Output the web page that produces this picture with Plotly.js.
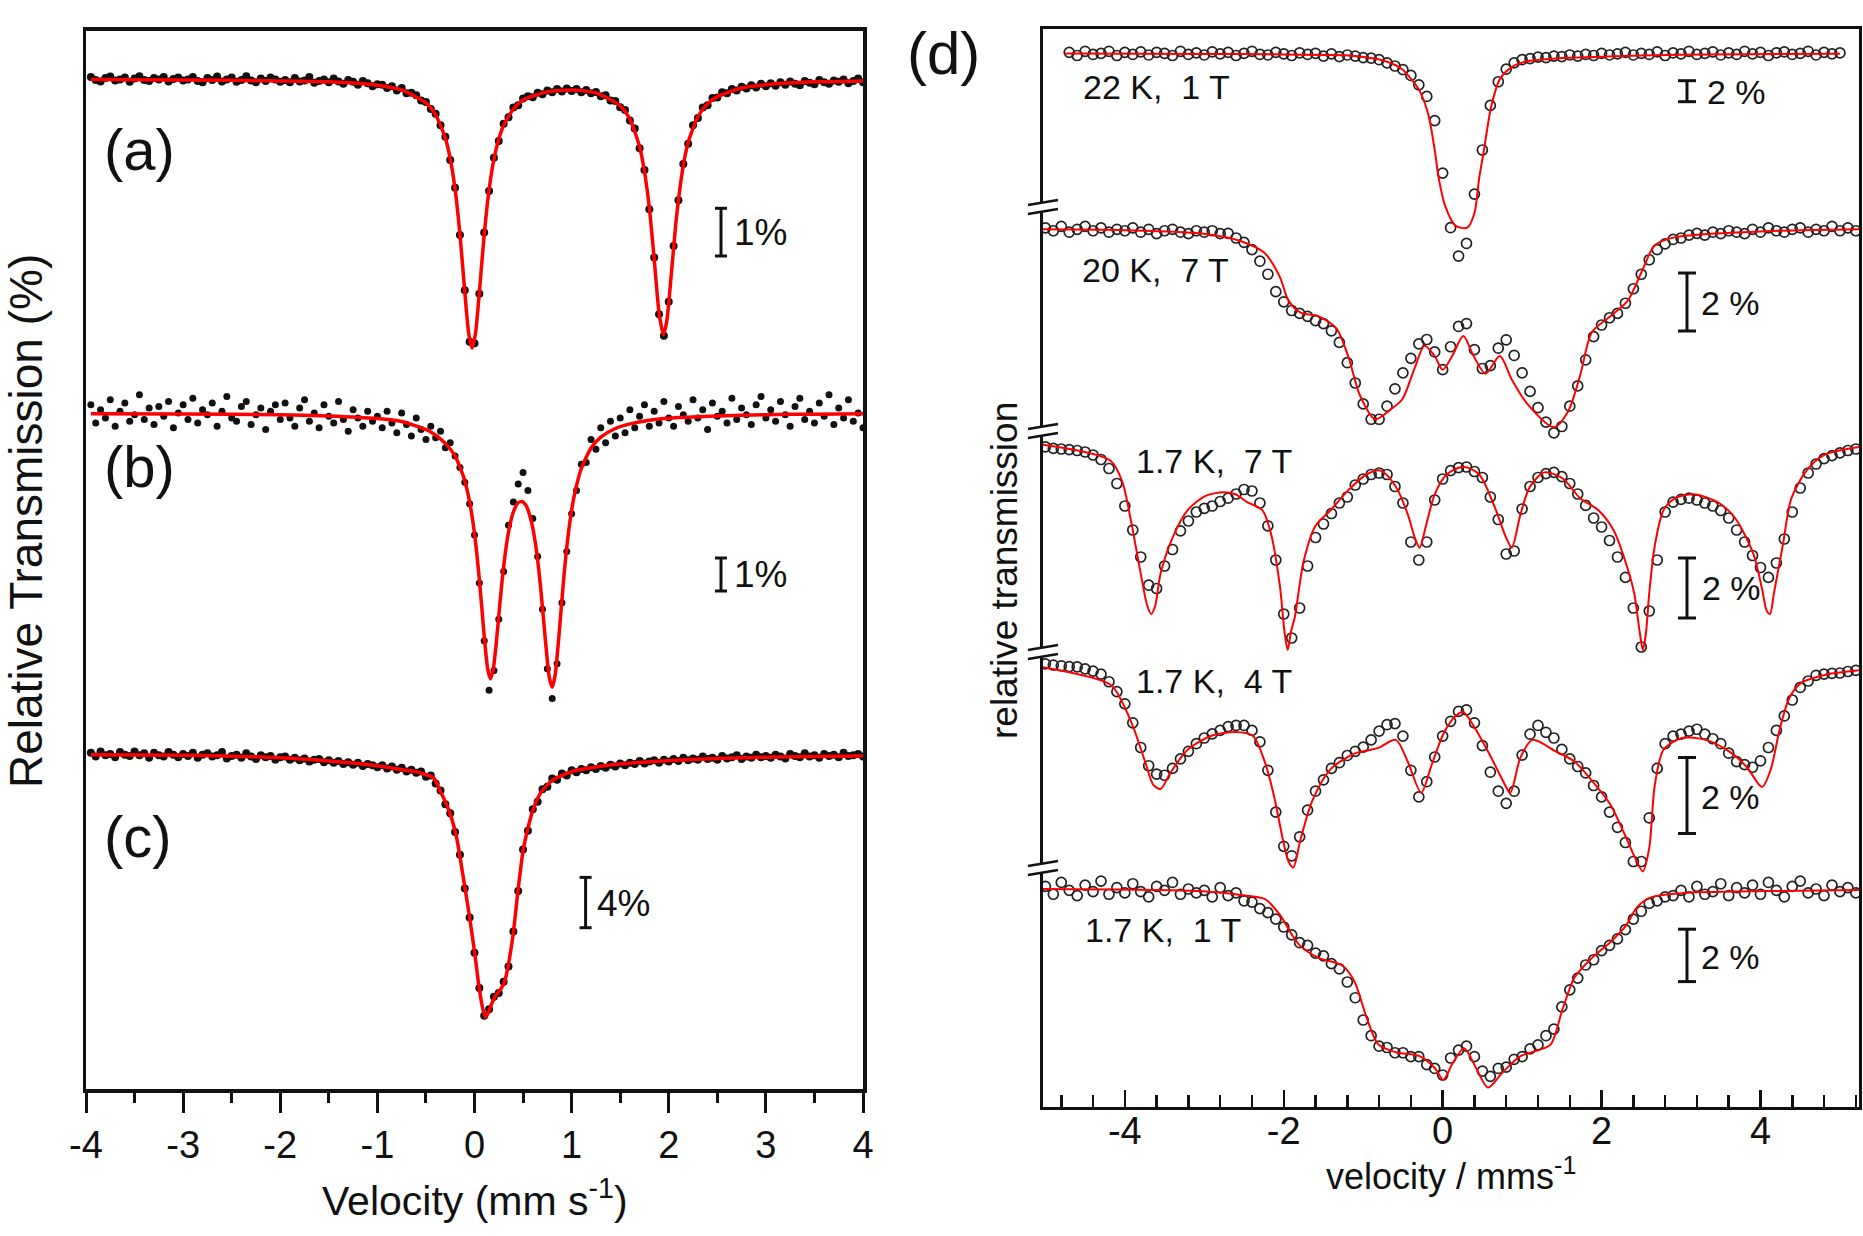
<!DOCTYPE html>
<html>
<head>
<meta charset="utf-8">
<script src="https://cdn.plot.ly/plotly-3.0.1.min.js"></script>
<style>
  html, body { margin: 0; padding: 0; background: #fff; }
  #chart { width: 1863px; height: 1236px; }
</style>
</head>
<body>
<div id="chart"></div>
<script>
// ---- left panel: (a) (b) (c), relative transmission in %, data every 0.05 mm/s from -3.95
const aData = [
  100.04, 99.98, 99.95, 100.02, 100.05, 99.97, 99.99, 100.03, 99.94, 100.01, 100.06, 99.98, 99.96, 100.02, 99.99, 100.04, 99.95, 100.00, 100.03, 99.97,
  99.99, 100.04, 99.96, 99.93, 100.02, 99.98, 100.05, 99.95, 99.99, 100.03, 99.94, 99.98, 100.06, 99.97, 99.93, 100.01, 99.96, 100.03, 99.99, 99.94,
  99.98, 99.93, 100.02, 99.95, 99.97, 100.04, 99.92, 99.96, 99.99, 99.93, 100.01, 99.95, 99.90, 99.98, 99.94, 99.88, 99.96, 99.91, 99.85, 99.89,
  99.88, 99.81, 99.85, 99.76, 99.81, 99.70, 99.71, 99.66, 99.55, 99.52, 99.37, 99.27, 99.03, 98.79, 98.30, 97.72, 96.73, 95.57, 94.49, 94.46,
  95.50, 96.78, 97.65, 98.35, 98.70, 99.06, 99.20, 99.40, 99.45, 99.59, 99.64, 99.62, 99.71, 99.68, 99.76, 99.72, 99.79, 99.74, 99.80, 99.75,
  99.79, 99.72, 99.77, 99.70, 99.73, 99.64, 99.66, 99.55, 99.54, 99.41, 99.35, 99.13, 98.96, 98.55, 98.09, 97.27, 96.26, 95.07, 94.62, 95.33,
  96.50, 97.46, 98.22, 98.64, 99.03, 99.18, 99.40, 99.45, 99.60, 99.61, 99.72, 99.70, 99.79, 99.76, 99.84, 99.80, 99.87, 99.82, 99.90, 99.85,
  99.91, 99.86, 99.93, 99.88, 99.95, 99.90, 99.87, 99.96, 99.92, 99.89, 99.98, 99.93, 99.90, 99.97, 99.94, 99.99, 99.91, 99.96, 100.01, 99.93
];
const aFitV = [-3.95, -3, -2, -1.5, -1, -0.75, -0.5, -0.4, -0.3, -0.25, -0.2, -0.15, -0.1, -0.06, -0.025, 0.01, 0.05, 0.1, 0.15, 0.2, 0.25, 0.3, 0.4, 0.5, 0.75, 1, 1.25, 1.5, 1.6, 1.7, 1.75, 1.8, 1.85, 1.9, 1.945, 1.98, 2.03, 2.08, 2.15, 2.2, 2.3, 2.4, 2.5, 2.75, 3, 3.5, 4];
const aFitT = [99.99, 99.98, 99.96, 99.94, 99.87, 99.77, 99.50, 99.25, 98.76, 98.33, 97.69, 96.75, 95.54, 94.67, 94.36, 94.66, 95.53, 96.74, 97.68, 98.32, 98.74, 99.03, 99.37, 99.56, 99.73, 99.77, 99.71, 99.44, 99.16, 98.58, 98.06, 97.30, 96.23, 95.10, 94.64, 94.93, 95.99, 97.11, 98.19, 98.67, 99.21, 99.48, 99.63, 99.81, 99.88, 99.94, 99.96];

const bData = [
  100.25, 99.70, 100.10, 99.85, 100.40, 99.60, 100.05, 100.30, 99.75, 99.95, 100.55, 99.80, 100.15, 99.65, 100.20, 99.90, 100.35, 99.55, 100.00, 100.25,
  99.80, 100.45, 99.70, 100.10, 99.95, 100.30, 99.60, 100.05, 100.50, 99.85, 99.75, 100.20, 100.35, 99.65, 99.95, 100.15, 99.50, 100.05, 100.25, 99.80,
  100.30, 99.85, 99.60, 100.15, 100.40, 99.75, 100.00, 99.55, 100.25, 99.90, 99.70, 100.35, 99.80, 99.45, 100.10, 99.85, 99.60, 100.05, 99.75, 99.90,
  99.55, 100.05, 99.70, 99.40, 100.00, 99.65, 99.30, 99.85, 99.50, 99.20, 99.60, 99.25, 99.45, 98.95, 99.10, 98.70, 98.35, 97.90, 97.25, 96.30,
  94.85, 93.10, 91.60, 92.20, 93.75, 95.20, 96.60, 97.30, 97.85, 98.20, 97.65, 96.80, 95.65, 94.05, 92.25, 91.35, 92.40, 94.25, 95.80, 96.95,
  97.65, 98.45, 98.50, 99.20, 98.90, 99.55, 99.10, 99.75, 99.30, 99.85, 99.40, 100.10, 99.55, 99.90, 100.25, 99.60, 100.05, 99.70, 100.35, 99.85,
  99.60, 100.20, 99.95, 99.75, 100.40, 99.85, 100.10, 99.50, 100.30, 99.90, 100.05, 99.70, 100.45, 99.80, 100.15, 99.95, 99.65, 100.25, 100.50, 99.85,
  100.10, 99.75, 100.35, 99.95, 99.60, 100.20, 100.45, 99.80, 100.05, 99.70, 100.30, 99.90, 100.55, 99.65, 100.15, 99.85, 100.40, 99.75, 100.00, 99.55
];
const bFitV = [-3.95, -3, -2, -1.5, -1, -0.75, -0.5, -0.4, -0.3, -0.2, -0.1, -0.05, 0, 0.05, 0.1, 0.135, 0.163, 0.19, 0.22, 0.26, 0.3, 0.35, 0.4, 0.45, 0.49, 0.53, 0.58, 0.63, 0.68, 0.73, 0.77, 0.8, 0.83, 0.87, 0.92, 0.97, 1.02, 1.1, 1.2, 1.3, 1.45, 1.6, 1.8, 2.1, 2.5, 3, 3.5, 4];
const bFitT = [99.98, 99.97, 99.945, 99.91, 99.83, 99.74, 99.5, 99.33, 99.08, 98.7, 97.95, 97.3, 96.35, 94.96, 93.24, 92.26, 91.95, 92.18, 92.9, 94.18, 95.35, 96.39, 97.0, 97.28, 97.32, 97.2, 96.78, 96.0, 94.74, 93.11, 91.99, 91.69, 92.05, 93.27, 95.03, 96.43, 97.39, 98.32, 98.94, 99.27, 99.53, 99.67, 99.78, 99.86, 99.91, 99.95, 99.965, 99.975];

const cData = [
  100.1, 99.8, 100.2, 99.9, 100.0, 99.75, 100.15, 99.95, 99.85, 100.2, 99.9, 100.05, 99.7, 100.1, 99.9, 99.8, 100.15, 99.95, 99.75, 100.0,
  99.85, 100.1, 99.7, 99.95, 100.05, 99.8, 99.9, 100.15, 99.65, 99.85, 99.95, 99.7, 100.05, 99.8, 99.6, 99.9, 99.75, 99.85, 99.55, 99.75,
  99.8, 99.55, 99.7, 99.5, 99.65, 99.4, 99.55, 99.6, 99.35, 99.5, 99.3, 99.45, 99.2, 99.35, 99.15, 99.3, 99.05, 99.2, 99.1, 98.95,
  99.1, 98.85, 99.0, 98.75, 98.9, 98.6, 98.75, 98.5, 98.6, 98.2, 98.3, 97.65, 97.1, 96.0, 95.3, 93.8, 92.0, 89.3, 87.0, 84.2,
  81.4, 79.2, 79.7, 80.7, 81.0, 81.9, 83.1, 85.9, 89.1, 92.4, 93.9, 95.6, 96.2, 97.2, 97.4, 98.05, 97.95, 98.45, 98.3, 98.7,
  98.55, 98.8, 98.7, 98.95, 98.8, 99.05, 98.9, 99.15, 99.0, 99.25, 99.1, 99.3, 99.2, 99.45, 99.25, 99.4, 99.5, 99.3, 99.55, 99.4,
  99.6, 99.45, 99.7, 99.5, 99.65, 99.55, 99.8, 99.6, 99.7, 99.55, 99.85, 99.65, 99.75, 99.9, 99.6, 99.8, 99.7, 99.95, 99.75, 99.85,
  99.7, 99.95, 99.8, 99.65, 100.0, 99.85, 99.75, 100.05, 99.8, 99.9, 99.7, 100.0, 99.85, 99.95, 99.75, 100.1, 99.85, 99.9, 100.0, 99.8
];
const cFitV = [-3.95, -3, -2, -1.5, -1.2, -0.9, -0.7, -0.6, -0.5, -0.42, -0.35, -0.3, -0.24, -0.18, -0.12, -0.06, 0, 0.05, 0.09, 0.114, 0.14, 0.18, 0.22, 0.27, 0.31, 0.35, 0.4, 0.45, 0.5, 0.55, 0.6, 0.68, 0.8, 1, 1.23, 1.5, 1.84, 2.5, 3, 3.5, 4];
const cFitT = [99.95, 99.9, 99.7, 99.45, 99.25, 98.95, 98.7, 98.6, 98.35, 98.1, 97.0, 96.2, 95.0, 93.2, 90.4, 87.5, 84.3, 81.3, 79.6, 79.1, 79.4, 80.2, 80.8, 81.3, 81.9, 83.3, 85.8, 89.3, 92.3, 94.1, 95.5, 96.9, 97.9, 98.6, 98.94, 99.2, 99.4, 99.65, 99.75, 99.8, 99.85];

// ---- right panel (d): data every 0.1 mm/s (22 K from -4.7, the others from -5.0)
const k22Data = [
  100.1, 99.8, 100.2, 99.9, 100.0, 100.2, 99.8, 100.1, 99.9, 100.15,
  99.85, 100.1, 100.0, 99.8, 100.2, 99.9, 100.05, 99.85, 100.15, 99.95,
  100.1, 99.8, 100.0, 100.2, 99.9, 99.85, 100.1, 99.95, 99.8, 100.05,
  99.9, 100.0, 99.75, 99.95, 99.7, 99.85, 99.75, 99.6, 99.55, 99.4,
  99.1, 98.8, 98.45, 97.9, 97.0, 95.9, 93.6, 88.6, 83.4, 80.7,
  81.9, 86.6, 90.8, 95.05, 97.3, 98.5, 99.1, 99.4, 99.5, 99.65,
  99.6, 99.75, 99.7, 99.85, 99.75, 99.9, 99.8, 100.0, 99.85, 99.95,
  100.1, 99.85, 100.0, 99.9, 100.15, 99.8, 100.05, 99.95, 100.2, 99.9,
  100.0, 100.15, 99.85, 100.05, 99.9, 100.2, 99.95, 100.1, 99.8, 100.05,
  100.15, 99.9, 100.0, 100.2, 99.85, 100.1, 99.95, 100.05
];
const k22FitV = [-4.75, -3, -2, -1.5, -1.19, -0.81, -0.59, -0.51, -0.4, -0.29, -0.18, -0.1, -0.05, 0.03, 0.16, 0.31, 0.4, 0.46, 0.52, 0.61, 0.72, 0.87, 1.06, 1.4, 1.81, 2.5, 3.31, 5.0];
const k22FitT = [99.98, 99.95, 99.9, 99.85, 99.81, 99.44, 98.87, 98.5, 97.6, 96.43, 94.16, 90.8, 88.14, 85.5, 83.6, 83.4, 84.8, 88.14, 90.8, 94.9, 97.55, 98.7, 99.25, 99.5, 99.63, 99.8, 99.89, 99.97];

const k20Data = [
  100.05, 99.95, 100.1, 99.9, 100.0, 100.1, 99.95, 100.05, 99.9, 100.0,
  99.95, 100.05, 99.9, 100.0, 99.85, 99.95, 100.0, 99.9, 99.85, 99.95,
  99.9, 99.95, 99.85, 99.86, 99.7, 99.55, 99.3, 98.9, 98.45, 97.85,
  97.5, 97.2, 97.1, 97.0, 96.85, 96.75, 96.5, 96.1, 95.4, 94.7,
  93.98, 93.45, 93.45, 93.9, 94.5, 95.05, 95.55, 96.05, 96.2, 95.77,
  95.16, 95.95, 96.65, 96.75, 95.85, 95.2, 95.3, 95.9, 96.19, 95.65,
  95.05, 94.41, 93.85, 93.35, 92.98, 93.2, 93.9, 94.6, 95.5, 96.3,
  96.7, 96.95, 97.1, 97.45, 97.95, 98.45, 98.95, 99.3, 99.5, 99.65,
  99.7, 99.8, 99.86, 99.8, 99.9, 99.85, 99.95, 99.9, 99.85, 100.0,
  99.9, 100.05, 99.95, 99.9, 100.0, 100.05, 99.9, 100.0, 99.95, 100.1,
  99.95, 100.05, 99.95
];
const k20FitV = [-5.03, -4, -3.06, -2.54, -2.24, -2.05, -1.94, -1.79, -1.56, -1.34, -1.19, -1.04, -0.85, -0.65, -0.51, -0.35, -0.23, -0.1, 0, 0.12, 0.26, 0.39, 0.54, 0.72, 0.87, 1.06, 1.4, 1.58, 1.73, 1.88, 2.11, 2.33, 2.52, 2.67, 2.93, 4.06, 5.24];
const k20FitT = [100, 99.97, 99.86, 99.59, 99.18, 98.36, 97.54, 97.13, 97.0, 96.59, 95.63, 94.27, 93.45, 93.8, 94.13, 95.23, 95.98, 95.63, 95.16, 95.63, 96.32, 95.63, 95.02, 95.63, 94.82, 94.0, 93.18, 93.73, 94.96, 96.46, 97.0, 97.54, 98.63, 99.45, 99.73, 99.93, 100];

const t7Data = [
  99.77, 99.72, 99.7, 99.68, 99.65, 99.6, 99.5, 99.35, 99.05, 98.55,
  97.8, 97.0, 96.1, 95.16, 95.05, 95.8, 96.35, 96.97, 97.3, 97.6,
  97.72, 97.8, 97.95, 98.06, 98.2, 98.35, 98.3, 97.9, 97.14, 96.0,
  94.2, 93.4, 94.4, 95.8, 96.75, 97.2, 97.55, 97.9, 98.1, 98.5,
  98.7, 98.85, 98.9, 98.85, 98.45, 97.9, 96.6, 96.0, 96.6, 98.0,
  98.7, 98.98, 99.08, 99.1, 98.95, 98.75, 98.1, 97.35, 96.2, 96.3,
  97.7, 98.45, 98.75, 98.88, 98.92, 98.78, 98.55, 98.2, 97.82, 97.4,
  97.1, 96.65, 96.1, 95.42, 94.4, 93.1, 94.3, 96.0, 97.6, 97.93,
  98.02, 98.06, 98.0, 97.9, 97.8, 97.65, 97.4, 97.0, 96.6, 96.15,
  95.75, 95.42, 95.9, 96.7, 97.6, 98.4, 98.9, 99.2, 99.38, 99.48,
  99.57, 99.65, 99.7
];
const t7FitV = [-5.03, -4.18, -4.03, -3.92, -3.81, -3.72, -3.67, -3.62, -3.55, -3.4, -3.21, -2.99, -2.76, -2.61, -2.46, -2.27, -2.16, -2.05, -1.99, -1.95, -1.91, -1.86, -1.75, -1.6, -1.41, -1.19, -0.96, -0.78, -0.59, -0.44, -0.35, -0.29, -0.21, -0.1, 0.05, 0.26, 0.46, 0.65, 0.8, 0.87, 0.98, 1.1, 1.28, 1.51, 1.73, 1.96, 2.15, 2.3, 2.41, 2.48, 2.52, 2.56, 2.6, 2.67, 2.78, 2.93, 3.16, 3.46, 3.68, 3.91, 4.02, 4.08, 4.12, 4.17, 4.28, 4.39, 4.58, 4.81, 5.24];
const t7FitT = [99.84, 99.31, 98.59, 97.27, 95.69, 94.5, 94.2, 94.45, 95.55, 96.74, 97.66, 98.13, 98.26, 98.19, 97.93, 97.66, 96.87, 95.16, 93.6, 93.0, 93.6, 94.11, 95.95, 97.14, 97.66, 98.32, 98.85, 98.98, 98.45, 97.53, 96.74, 96.41, 97.14, 98.19, 98.85, 99.11, 98.85, 97.8, 96.74, 96.41, 97.53, 98.45, 98.92, 98.72, 98.06, 97.66, 97.0, 95.95, 94.9, 93.6, 93.0, 93.6, 94.9, 96.48, 97.66, 98.06, 98.19, 97.93, 97.4, 96.21, 95.03, 94.3, 94.2, 94.9, 96.48, 98.06, 98.98, 99.51, 99.77];

const t4Data = [
  99.95, 99.92, 99.9, 99.88, 99.87, 99.82, 99.76, 99.68, 99.48, 99.22,
  98.9, 98.4, 97.75, 97.27, 97.05, 97.02, 97.2, 97.45, 97.65, 97.85,
  98.0, 98.11, 98.2, 98.3, 98.33, 98.33, 98.2, 97.9, 97.15, 96.05,
  95.15, 94.9, 95.4, 96.1, 96.6, 96.9, 97.2, 97.35, 97.54, 97.65,
  97.76, 97.95, 98.18, 98.35, 98.38, 98.05, 97.15, 96.45, 96.85, 97.5,
  98.05, 98.44, 98.7, 98.74, 98.4, 97.8, 97.1, 96.6, 96.28, 96.6,
  97.55, 98.1, 98.33, 98.15, 98.0, 97.7, 97.45, 97.25, 97.08, 96.75,
  96.45, 96.05, 95.65, 95.25, 94.75, 94.75, 95.9, 97.2, 97.85, 98.05,
  98.1, 98.18, 98.23, 98.1, 97.98, 97.85, 97.6, 97.38, 97.3, 97.23,
  97.4, 97.75, 98.2, 98.58, 99.0, 99.33, 99.5, 99.65, 99.68, 99.7,
  99.71, 99.75, 99.78
];
const t4FitV = [-5.03, -4.18, -4.03, -3.88, -3.73, -3.64, -3.55, -3.43, -3.21, -2.91, -2.61, -2.39, -2.24, -2.12, -2.01, -1.94, -1.88, -1.79, -1.64, -1.41, -1.11, -0.81, -0.59, -0.44, -0.27, -0.14, 0.01, 0.16, 0.26, 0.42, 0.61, 0.76, 0.85, 0.98, 1.13, 1.43, 1.66, 1.88, 2.11, 2.3, 2.41, 2.52, 2.6, 2.67, 2.78, 3.01, 3.31, 3.61, 3.83, 4.02, 4.13, 4.24, 4.36, 4.51, 4.81, 5.24];
const t4FitT = [99.86, 99.4, 98.93, 98.21, 97.28, 96.76, 96.66, 97.07, 97.69, 98.06, 98.16, 98.06, 97.38, 96.45, 95.32, 94.75, 94.59, 95.32, 96.35, 97.18, 97.59, 97.74, 97.95, 97.38, 96.56, 97.28, 98.11, 98.57, 98.68, 98.21, 97.49, 96.87, 96.56, 97.49, 97.95, 97.64, 97.38, 96.87, 96.25, 95.42, 94.9, 94.49, 95.11, 96.76, 97.69, 98.0, 97.95, 97.64, 97.23, 96.71, 97.18, 98.21, 99.04, 99.45, 99.66, 99.78];

const t1Data = [
  100.1, 99.8, 100.25, 99.95, 99.75, 100.15, 99.9, 100.3, 99.8, 100.05,
  99.85, 100.2, 99.9, 99.7, 100.1, 99.95, 100.25, 99.8, 100.0, 99.85,
  99.95, 99.7, 100.05, 99.75, 99.85, 99.55, 99.5, 99.25, 99.1, 98.85,
  98.55, 98.25, 97.95, 97.85, 97.55, 97.45, 97.15, 96.95, 96.45, 95.85,
  95.0, 94.4, 94.0, 93.95, 93.75, 93.75, 93.6, 93.6, 93.3, 93.15,
  92.9, 93.55, 93.85, 94.0, 93.6, 93.05, 92.85, 93.15, 93.2, 93.5,
  93.6, 93.9, 94.05, 94.4, 94.65, 95.5, 96.15, 96.6, 97.1, 97.3,
  97.65, 97.85, 98.1, 98.45, 98.85, 99.15, 99.45, 99.55, 99.7, 99.75,
  99.95, 99.7, 100.1, 99.8, 99.9, 100.2, 99.75, 100.05, 99.85, 100.15,
  99.8, 100.25, 99.95, 99.7, 100.1, 100.3, 99.85, 100.0, 99.75, 100.15,
  99.9, 100.05, 99.85
];
const t1FitV = [-5.03, -3.06, -2.54, -2.24, -2.05, -1.9, -1.79, -1.56, -1.26, -1.11, -0.96, -0.81, -0.59, -0.29, -0.1, 0.01, 0.12, 0.27, 0.42, 0.57, 0.76, 0.98, 1.21, 1.36, 1.51, 1.66, 1.88, 2.11, 2.3, 2.45, 2.63, 3.01, 4.06, 5.24];
const t1FitT = [100, 99.92, 99.77, 99.62, 99.02, 98.27, 97.82, 97.37, 97.07, 96.47, 95.12, 94.07, 93.77, 93.62, 93.17, 92.72, 93.32, 93.92, 93.17, 92.42, 93.02, 93.62, 93.85, 94.07, 95.42, 96.62, 97.37, 97.97, 98.57, 99.32, 99.69, 99.84, 99.92, 99.96];

const leftTicks = [-4, -3, -2, -1, 0, 1, 2, 3, 4];
const rightTicks = [-4, -2, 0, 2, 4];

// ---- page geometry (pixels of the 1863 x 1236 page)
const W = 1863, H = 1236;
const px = x => x / W;
const py = y => 1 - y / H;
const FONT = 'Liberation Sans, Arial, sans-serif';

function grid(start, step, n) {
  return Array.from({ length: n }, (_, i) => +(start + i * step).toFixed(3));
}
// y axes run in page pixels; each spectrum has a baseline row and a gain (px per %)
function place(T, base, gain) {
  return T.map(t => base + (100 - t) * gain);
}

const leftSpectra = [
  { v: grid(-3.95, 0.05, 160), T: aData, fv: aFitV, fT: aFitT, base: 79, gain: 47.7, dot: 8 },
  { v: grid(-3.95, 0.05, 160), T: bData, fv: bFitV, fT: bFitT, base: 413, gain: 33, dot: 7 },
  { v: grid(-3.95, 0.05, 160), T: cData, fv: cFitV, fT: cFitT, base: 754, gain: 12.58, dot: 8 }
];
const rightSpectra = [
  { v: grid(-4.7, 0.1, 98), T: k22Data, fv: k22FitV, fT: k22FitT, base: 53.4, gain: 10.5 },
  { v: grid(-5.0, 0.1, 103), T: k20Data, fv: k20FitV, fT: k20FitT, base: 229.3, gain: 29 },
  { v: grid(-5.0, 0.1, 103), T: t7Data, fv: t7FitV, fT: t7FitT, base: 440, gain: 30 },
  { v: grid(-5.0, 0.1, 103), T: t4Data, fv: t4FitV, fT: t4FitT, base: 662, gain: 38 },
  { v: grid(-5.0, 0.1, 103), T: t1Data, fv: t1FitV, fT: t1FitT, base: 889, gain: 26.2 }
];

const traces = [];
leftSpectra.forEach(s => {
  traces.push({
    x: s.v, y: place(s.T, s.base, s.gain), xaxis: 'x', yaxis: 'y',
    mode: 'markers', type: 'scatter',
    marker: { symbol: 'circle', size: s.dot, color: '#111' }
  });
  traces.push({
    x: s.fv, y: place(s.fT, s.base, s.gain), xaxis: 'x', yaxis: 'y',
    mode: 'lines', type: 'scatter',
    line: { color: '#ff0000', width: 3.5, shape: 'spline', smoothing: 0.6 }
  });
});
rightSpectra.forEach(s => {
  traces.push({
    x: s.v, y: place(s.T, s.base, s.gain), xaxis: 'x2', yaxis: 'y2',
    mode: 'markers', type: 'scatter',
    marker: { symbol: 'circle-open', size: 10, color: '#222', line: { width: 1.7, color: '#222' } }
  });
  traces.push({
    x: s.fv, y: place(s.fT, s.base, s.gain), xaxis: 'x2', yaxis: 'y2',
    mode: 'lines', type: 'scatter',
    line: { color: '#ff0000', width: 2, shape: 'spline', smoothing: 0.8 }
  });
});

// scale bars: x, top, percent, gain, cap width
const bars = [
  [721, 208.3, 1, 47.7, 12], [721, 558, 1, 33, 12], [585.6, 877.4, 4, 12.58, 12],
  [1687, 80.7, 2, 10.5, 18], [1687, 273, 2, 29, 18], [1687, 558, 2, 30, 18],
  [1687, 757.5, 2, 38, 18], [1687, 929.2, 2, 26.2, 18]
];
const shapes = [];
bars.forEach(([x, top, pct, gain, cap]) => {
  const bot = top + pct * gain;
  const ln = { color: '#111', width: 3 };
  shapes.push({ type: 'line', xref: 'paper', yref: 'paper', x0: px(x), x1: px(x), y0: py(top), y1: py(bot), line: ln });
  shapes.push({ type: 'line', xref: 'paper', yref: 'paper', x0: px(x - cap / 2), x1: px(x + cap / 2), y0: py(top), y1: py(top), line: ln });
  shapes.push({ type: 'line', xref: 'paper', yref: 'paper', x0: px(x - cap / 2), x1: px(x + cap / 2), y0: py(bot), y1: py(bot), line: ln });
});
// axis breaks on the left axis of (d)
[207, 431, 652, 868].forEach(yb => {
  const xa = 1028, xb = 1058;
  shapes.push({
    type: 'path', xref: 'paper', yref: 'paper', fillcolor: '#fff', line: { width: 0 },
    path: `M ${px(xa)} ${py(yb + 7)} L ${px(xb)} ${py(yb + 2)} L ${px(xb)} ${py(yb - 7)} L ${px(xa)} ${py(yb - 2)} Z`
  });
  [-4.5, 4.5].forEach(d => {
    shapes.push({ type: 'line', xref: 'paper', yref: 'paper', x0: px(xa), y0: py(yb + d + 2.5), x1: px(xb), y1: py(yb + d - 2.5), line: { color: '#111', width: 2.5 } });
  });
});

function label(text, x, y, size, opts) {
  return Object.assign({
    text: text, xref: 'paper', yref: 'paper', x: px(x), y: py(y),
    xanchor: 'left', yanchor: 'middle', showarrow: false,
    font: { family: FONT, size: size, color: '#111' }
  }, opts || {});
}
const annotations = [
  label('(a)', 102, 150, 58), label('(b)', 102, 466, 58), label('(c)', 102, 836, 58),
  label('(d)', 905, 53, 60),
  label('1%', 732, 232, 37), label('1%', 732, 574, 37), label('4%', 595, 903, 37),
  label('2 %', 1705, 92, 34), label('2 %', 1699, 303, 34), label('2 %', 1700, 588, 34),
  label('2 %', 1699, 797, 34), label('2 %', 1699, 957, 34),
  label('22 K,\u00a0\u00a01 T', 1081, 87, 34), label('20 K,\u00a0\u00a07 T', 1080, 270, 34),
  label('1.7 K,\u00a0\u00a07 T', 1134, 461, 34), label('1.7 K,\u00a0\u00a04 T', 1134, 681, 34),
  label('1.7 K,\u00a0\u00a01 T', 1083, 930, 34),
  label('Relative Transmission (%)', 26, 521, 46, { xanchor: 'center', textangle: -90 }),
  label('Velocity (mm s<sup>-1</sup>)', 475, 1198, 41, { xanchor: 'center' }),
  label('relative transmission', 1004, 570, 37, { xanchor: 'center', textangle: -90 }),
  label('velocity / mms<sup>-1</sup>', 1451, 1174, 36, { xanchor: 'center' })
];

const layout = {
  width: W, height: H,
  margin: { l: 0, r: 0, t: 0, b: 0 },
  paper_bgcolor: '#fff', plot_bgcolor: '#fff',
  showlegend: false,
  font: { family: FONT, color: '#111' },
  xaxis: {
    domain: [px(86), px(863)], range: [-4, 4], anchor: 'y',
    showline: true, linewidth: 3.5, linecolor: '#111', mirror: true,
    showgrid: false, zeroline: false,
    ticks: 'outside', ticklen: 20, tickwidth: 3, tickcolor: '#111',
    tickmode: 'array', tickvals: leftTicks, ticktext: leftTicks.map(String),
    tickfont: { family: FONT, size: 38, color: '#111' },
    minor: { tickmode: 'linear', tick0: 0, dtick: 0.5, ticks: 'outside', ticklen: 10, tickwidth: 3, tickcolor: '#111', showgrid: false }
  },
  yaxis: {
    domain: [1 - 1089 / H, 1 - 30.7 / H], range: [1089, 30.7], anchor: 'x',
    showline: true, linewidth: 3.5, linecolor: '#111', mirror: true,
    showgrid: false, zeroline: false, ticks: '', showticklabels: false
  },
  xaxis2: {
    domain: [px(1043), px(1859)], range: [-5.03, 5.24], anchor: 'y2',
    showline: true, linewidth: 3, linecolor: '#111', mirror: true,
    showgrid: false, zeroline: false,
    ticks: 'inside', ticklen: 17, tickwidth: 2.5, tickcolor: '#111',
    tickmode: 'array', tickvals: rightTicks, ticktext: rightTicks.map(String),
    tickfont: { family: FONT, size: 38, color: '#111' }, ticklabelstandoff: -12,
    minor: { tickmode: 'linear', tick0: 0, dtick: 0.4, ticks: 'inside', ticklen: 12, tickwidth: 2.5, tickcolor: '#111', showgrid: false }
  },
  yaxis2: {
    domain: [1 - 1107 / H, 1 - 29 / H], range: [1107, 29], anchor: 'x2',
    showline: true, linewidth: 3, linecolor: '#111', mirror: true,
    showgrid: false, zeroline: false, ticks: '', showticklabels: false
  },
  shapes: shapes,
  annotations: annotations
};

Plotly.newPlot(document.getElementById('chart'), traces, layout, { staticPlot: true });
</script>
</body>
</html>
